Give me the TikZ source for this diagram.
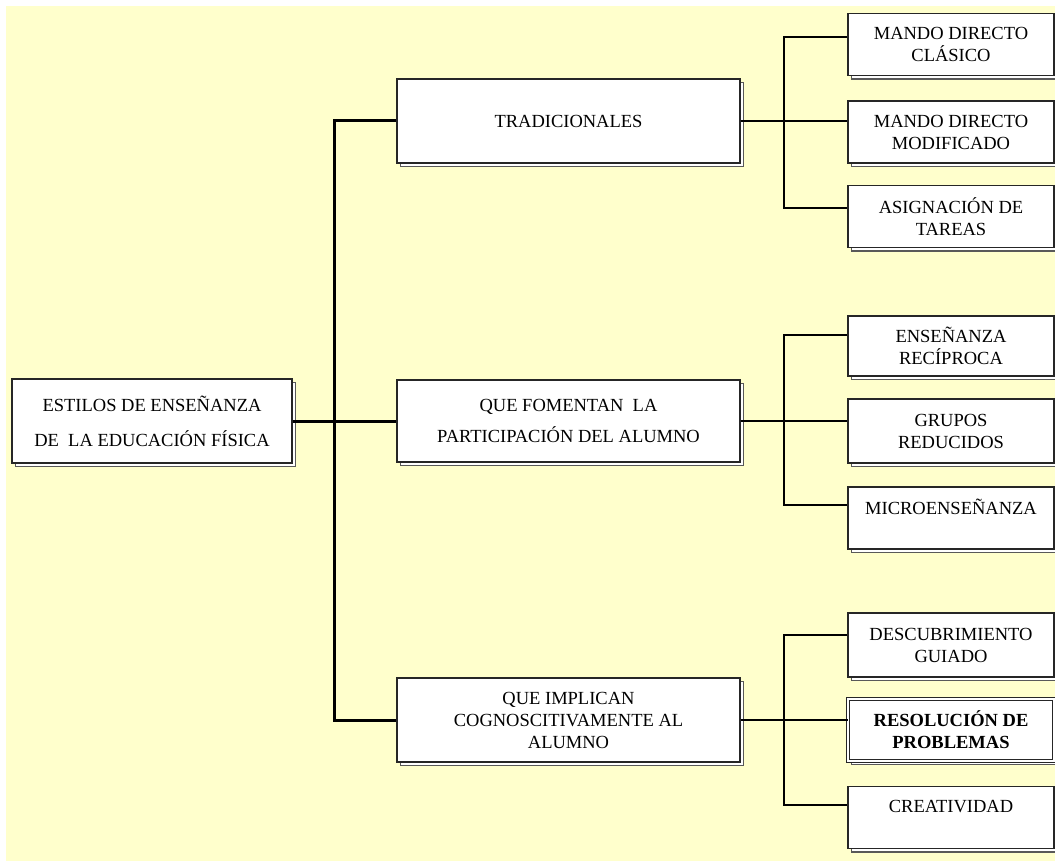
\documentclass[tikz,border=0pt]{standalone}
\usepackage{fontspec}
\setmainfont{Liberation Serif}
\usetikzlibrary{shadows}
\definecolor{paper}{RGB}{255,255,204}
\begin{document}
\begin{tikzpicture}[x=1pt,y=-1pt,
  box/.style={draw=black!85, line width=1.2pt, fill=white, align=center,
    inner sep=0pt, font=\fontsize{18.5}{22}\selectfont,
    general shadow={shadow xshift=3.5pt, shadow yshift=-3.5pt,
      draw=black!65, fill=white, line width=1.4pt}},
  rootbox/.style={box, minimum width=280pt, minimum height=84pt},
  midbox/.style={box, minimum width=343pt, minimum height=84pt},
  leafbox/.style={box, minimum width=206pt, minimum height=62pt},
  keybox/.style={leafbox, double, double distance=2pt, line width=1pt,
    font=\fontsize{18.5}{22}\selectfont\bfseries},
  trunk/.style={line width=3pt},
  twig/.style={line width=1.1pt}]

\useasboundingbox (0,0) rectangle (1055,861);
\fill[white] (0,0) rectangle (1055,861);
\fill[paper] (6,6) rectangle (1055,861);

% root and the three families of styles
\node[rootbox] (root) at (152,421) {ESTILOS DE ENSEÑANZA\\[13pt]DE\ \ LA EDUCACIÓN FÍSICA};
\node[midbox] (trad) at (568.5,121) {TRADICIONALES};
\node[midbox, minimum height=82pt] (fom) at (568.5,421) {QUE FOMENTAN\ \ LA\\[9pt]PARTICIPACIÓN DEL ALUMNO};
\node[midbox] (cog) at (568.5,720) {QUE IMPLICAN\\COGNOSCITIVAMENTE AL\\ALUMNO};

% individual styles
\node[leafbox] (r1) at (951,44.5) {MANDO DIRECTO\\CLÁSICO};
\node[leafbox] (r2) at (951,132) {MANDO DIRECTO\\MODIFICADO};
\node[leafbox] (r3) at (951,216.5) {ASIGNACIÓN DE\\TAREAS};
\node[leafbox, minimum height=60pt] (r4) at (951,346) {ENSEÑANZA\\RECÍPROCA};
\node[leafbox, minimum height=64pt] (r5) at (951,431) {GRUPOS\\REDUCIDOS};
\node[leafbox] (r6) at (951,518) {MICROENSEÑANZA\\\mbox{}};
\node[leafbox, minimum height=64pt] (r7) at (951,645) {DESCUBRIMIENTO\\GUIADO};
\node[keybox] (r8) at (951,730) {RESOLUCIÓN DE\\PROBLEMAS};
\node[leafbox] (r9) at (951,817.5) {CREATIVIDAD\\\mbox{}};

% main trunk
\coordinate (hub) at (334,421);
\draw[trunk] (root.east) -- (fom.west);
\draw[trunk] (trad.west) -| (hub) |- (cog.west);

% branches to the individual styles
\coordinate (b1) at (784,121);
\draw[twig] (trad.east) -- (trad.east -| r2.west);
\draw[twig] ([yshift=7.5pt]r1.west) -| (b1) |- ([yshift=8.5pt]r3.west);

\coordinate (b2) at (784,421);
\draw[twig] (fom.east) -- (fom.east -| r5.west);
\draw[twig] ([yshift=11pt]r4.west) -| (b2) |- ([yshift=13pt]r6.west);

\coordinate (b3) at (784,720);
\draw[twig] (cog.east) -- (cog.east -| r8.west);
\draw[twig] ([yshift=10pt]r7.west) -| (b3) |- ([yshift=12.5pt]r9.west);
\end{tikzpicture}
\end{document}
